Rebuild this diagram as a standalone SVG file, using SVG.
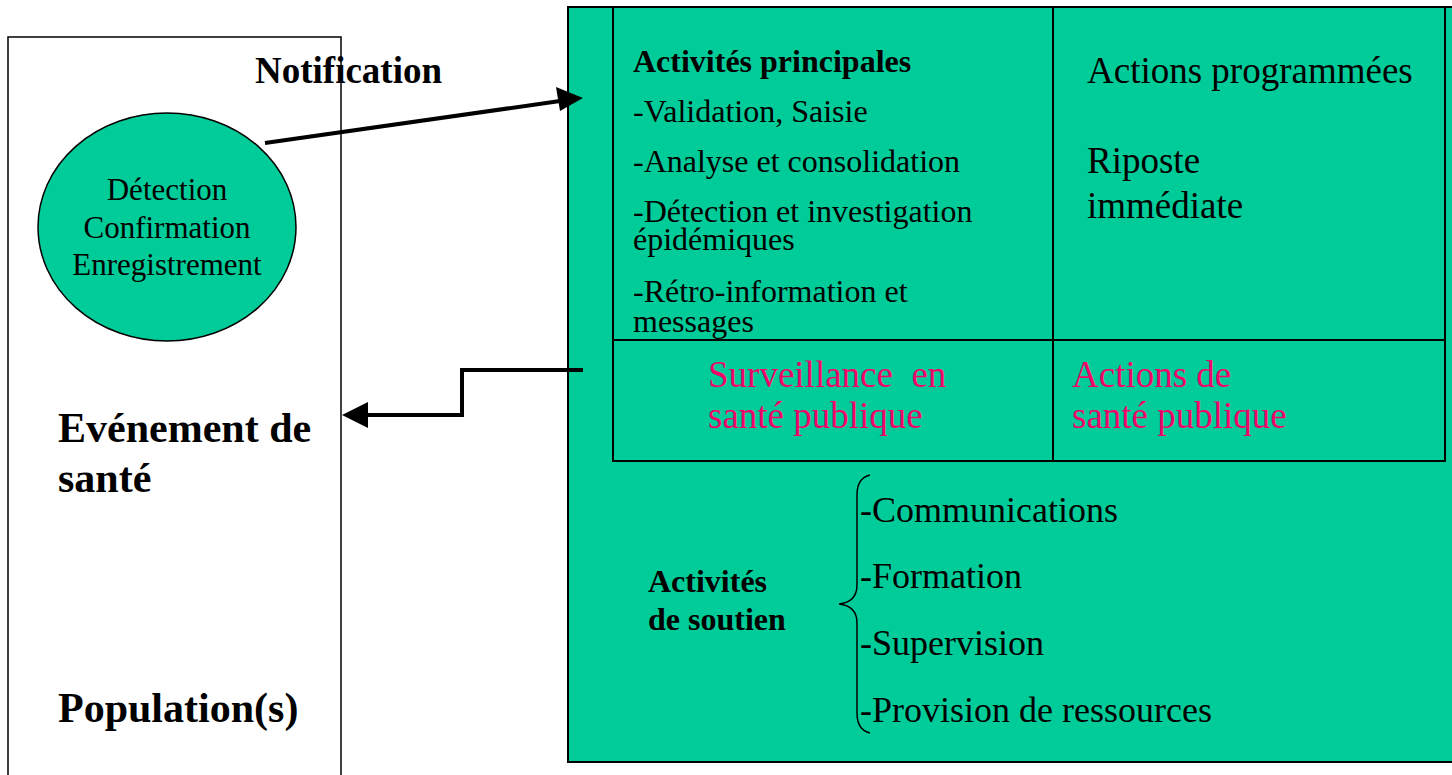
<svg xmlns="http://www.w3.org/2000/svg" width="1452" height="775" viewBox="0 0 1452 775">
<style>
text{font-family:"Liberation Serif","Times New Roman",serif;fill:#000}
.b{font-weight:bold}
.pink{fill:#F0046A}
.box{fill:#00CC99;stroke:#000;stroke-width:2}
.ln{stroke:#000;stroke-width:2;fill:none}
.con{stroke:#000;stroke-width:4;fill:none}
</style>
<defs>
<marker id="ah" markerWidth="8" markerHeight="7" refX="7" refY="3.5" orient="auto" markerUnits="strokeWidth">
<path d="M0,0 L8,3.5 L0,7 Z" fill="#000"/>
</marker>
</defs>
<rect width="1452" height="775" fill="#fff"/>
<g id="population-box">
<rect x="8" y="37" width="333" height="760" fill="#fff" stroke="#000" stroke-width="1.5"/>
<text class="b" x="58" y="442" font-size="42">Evénement de</text>
<text class="b" x="58" y="492" font-size="42">santé</text>
<text class="b" x="58" y="722" font-size="42">Population(s)</text>
</g>
<g id="detection">
<ellipse cx="167" cy="227" rx="129" ry="114" fill="#00CC99" stroke="#000" stroke-width="1.5"/>
<text x="167" y="200" font-size="31" text-anchor="middle">Détection</text>
<text x="167" y="238" font-size="31" text-anchor="middle">Confirmation</text>
<text x="167" y="275" font-size="31" text-anchor="middle">Enregistrement</text>
</g>
<g id="system">
<rect class="box" x="568" y="7" width="900" height="755"/>
<rect class="ln" x="613" y="7" width="832" height="454"/>
<line class="ln" x1="1053" y1="7" x2="1053" y2="461"/>
<line class="ln" x1="613" y1="340" x2="1445" y2="340"/>
</g>
<g id="activites-principales">
<text class="b" x="633" y="72" font-size="32">Activités principales</text>
<text x="633" y="122" font-size="32">-Validation, Saisie</text>
<text x="633" y="172" font-size="32">-Analyse et consolidation</text>
<text x="633" y="222" font-size="32">-Détection et investigation</text>
<text x="633" y="250" font-size="32">épidémiques</text>
<text x="633" y="302" font-size="32">-Rétro-information et</text>
<text x="633" y="332" font-size="32">messages</text>
</g>
<g id="actions">
<text x="1087" y="83" font-size="37">Actions programmées</text>
<text x="1087" y="173" font-size="37">Riposte</text>
<text x="1087" y="218" font-size="37">immédiate</text>
</g>
<g id="surveillance">
<text class="pink" x="708" y="387" font-size="37" xml:space="preserve">Surveillance  en</text>
<text class="pink" x="708" y="428" font-size="37">santé publique</text>
</g>
<g id="actions-sante">
<text class="pink" x="1072" y="387" font-size="37">Actions de</text>
<text class="pink" x="1072" y="428" font-size="37">santé publique</text>
</g>
<g id="soutien">
<text class="b" x="648" y="592" font-size="32">Activités</text>
<text class="b" x="648" y="630" font-size="32">de soutien</text>
<path d="M870,475 Q857,478 857,495 L857,585 Q857,602 839,604 Q857,606 857,623 L857,713 Q857,730 870,733" fill="none" stroke="#000" stroke-width="1.5"/>
<text x="860" y="522" font-size="36">-Communications</text>
<text x="860" y="588" font-size="36">-Formation</text>
<text x="860" y="655" font-size="36">-Supervision</text>
<text x="860" y="722" font-size="36">-Provision de ressources</text>
</g>
<g id="notification-label">
<text class="b" x="255" y="83" font-size="37">Notification</text>
</g>
<g id="connectors">
<path class="con" d="M265,143 L560,101" />
<polygon points="583,98 556,87 560,111" fill="#000"/>
<path class="con" d="M583,370 L462,370 L462,415 L366,415"/>
<polygon points="342,415 368,402 368,428" fill="#000"/>
</g>
</svg>
